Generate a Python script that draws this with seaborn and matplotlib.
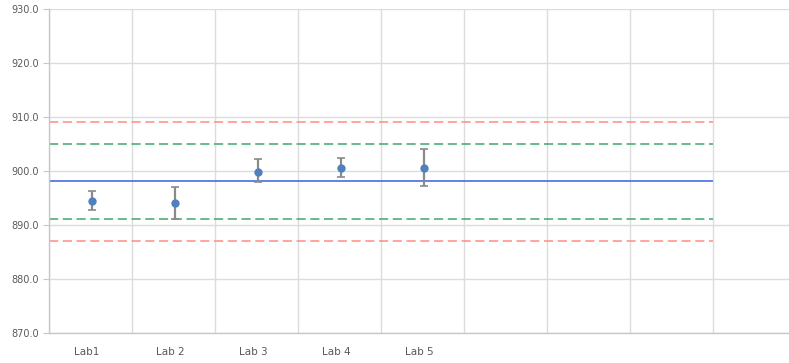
import pandas as pd
import numpy as np
import seaborn as sns
import matplotlib.pyplot as plt

# DATA
labs = ['Lab1', 'Lab 2', 'Lab 3', 'Lab 4', 'Lab 5']
medias = [894.4, 894.1, 899.9, 900.5, 900.5]
err_sup = [1.9, 3.0, 2.3, 2.0, 3.5]
err_inf = [1.6, 2.9, 2.0, 1.7, 3.3]
valor_ref = 898.1
lim_verde = [891.2, 905.0]
lim_rojo = [887.1, 909.1]
n_slots = 8

df = pd.DataFrame({'lab': labs, 'media': medias})
df['x'] = np.arange(len(labs)) + 0.52

sns.set_style('white')
plt.rcParams['font.family'] = ['DejaVu Sans']

fig = plt.figure(figsize=(7.89, 3.63), dpi=100)
ax = fig.add_axes([49 / 789, 30 / 363, 740 / 789, 324 / 363])

# lineas de referencia
ax.hlines(lim_rojo, 0, n_slots, colors='#ff8c85', linestyles=(0, (6, 3)), lw=1.1, zorder=2)
ax.hlines(lim_verde, 0, n_slots, colors='#3da86a', linestyles=(0, (6, 3)), lw=1.1, zorder=2)
ax.hlines(valor_ref, 0, n_slots, colors='#3361e0', lw=1.1, zorder=2)

# barras de error + puntos
ax.errorbar(df['x'], df['media'], yerr=[err_inf, err_sup], fmt='none',
            ecolor='#8a8a8a', elinewidth=1.6, capsize=3, capthick=1.2, zorder=3)
sns.scatterplot(data=df, x='x', y='media', ax=ax, color='#4f81bd', s=36,
                edgecolor='#4f81bd', linewidth=0, zorder=4)

ax.set_ylim(870, 930)
ax.set_xlim(0, 8.92)
ax.set_yticks(np.arange(870, 931, 10))
ax.set_yticklabels([f'{v:.1f}' for v in np.arange(870, 931, 10)])
ax.set_xticks(df['x'] - 0.06)
ax.set_xticklabels(labs)
ax.set_xticks(np.arange(0, n_slots + 1), minor=True)
ax.set_xlabel('')
ax.set_ylabel('')

ax.grid(axis='y', color='#dcdcdc', lw=1)
ax.grid(axis='x', which='minor', color='#dcdcdc', lw=1)
ax.set_axisbelow(True)

for s in ['top', 'right']:
    ax.spines[s].set_visible(False)
for s in ['left', 'bottom']:
    ax.spines[s].set_color('#c8c8c8')
    ax.spines[s].set_linewidth(1)

ax.tick_params(axis='y', length=4, color='#c8c8c8', labelsize=7, labelcolor='#595959', pad=3, left=True)
ax.tick_params(axis='x', which='major', length=0, labelsize=7.5, labelcolor='#595959', pad=10)
ax.tick_params(axis='x', which='minor', length=0)

fig.savefig('out.png', dpi=100)
